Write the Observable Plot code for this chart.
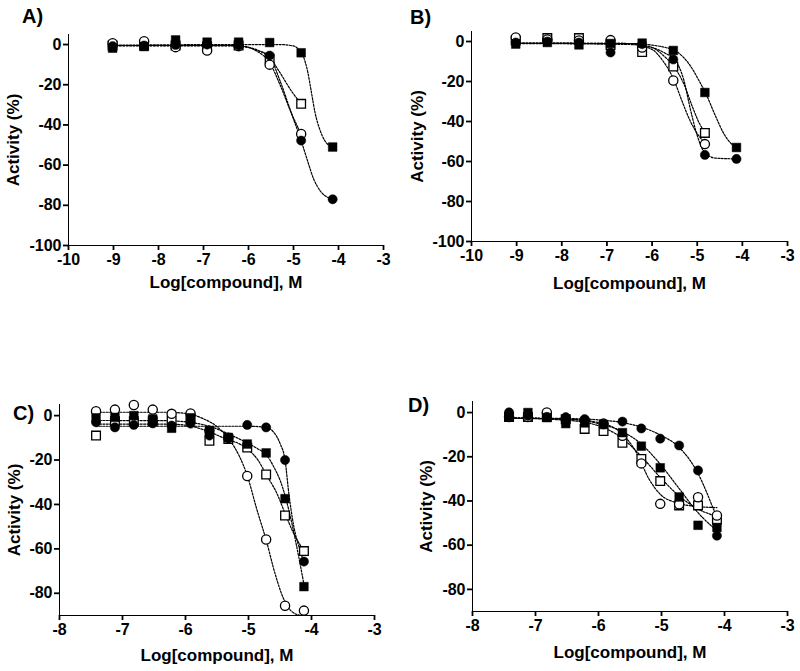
<!DOCTYPE html>
<html>
<head>
<meta charset="utf-8">
<script src="https://cdn.jsdelivr.net/npm/d3@7"></script>
<script src="https://cdn.jsdelivr.net/npm/@observablehq/plot@0.6"></script>
<style>
  html, body { margin: 0; padding: 0; background: #fff; }
  #chart { position: relative; width: 800px; height: 671px; background: #fff; overflow: hidden; }
  .panel { position: absolute; }
  .letter { position: absolute; font: bold 20px "Liberation Sans", Arial, sans-serif; line-height: 20px; color: #000; }
</style>
</head>
<body>
<div id="chart"></div>
<script>
// ---------- labels ----------
const panelLetters = ["A)", "B)", "C)", "D)"];
const xLabel = "Log[compound], M";
const yLabel = "Activity (%)";
const xTicksAB = [-10, -9, -8, -7, -6, -5, -4, -3];
const yTicksAB = [0, -20, -40, -60, -80, -100];
const xTicksCD = [-8, -7, -6, -5, -4, -3];
const yTicksCD = [0, -20, -40, -60, -80];

// ---------- log concentrations ----------
const xAB = [-9.02, -8.32, -7.62, -6.92, -6.22, -5.53, -4.83, -4.13];
const xCD = [-7.42, -7.12, -6.82, -6.52, -6.22, -5.92, -5.62, -5.32, -5.02, -4.72, -4.42, -4.12];

// ---------- measured points (activity %) ----------
// series: sqF = filled square, ciF = filled circle, ciO = open circle, sqO = open square
const A_sqF = [-1.8, -1.0, 2.3, 1.2, 1.2, 1.0, -4.1, -51.0];
const A_ciF = [-0.8, -0.5, -0.2, 0.0, -0.5, -5.5, -47.8, -77.0];
const A_ciO = [0.7, 1.7, -1.3, -3.0, -0.8, -10.0, -44.5, null];
const A_sqO = [-0.5, -0.5, -0.5, -1.0, -0.5, -7.1, -29.5, null];

const B_sqF = [-1.3, -0.5, -1.7, -1.0, -0.8, -4.5, -25.5, -53.0];
const B_ciF = [-0.5, 0.0, -0.5, -5.5, -1.3, -9.0, -56.7, -58.7];
const B_ciO = [2.0, 1.0, 0.5, 0.7, -3.0, -19.5, -51.3, null];
const B_sqO = [0.5, 1.7, 1.7, -1.8, -5.3, -12.5, -45.7, null];

const C_sqF = [-1.0, -0.8, 0.0, -1.5, -5.7, -1.0, -6.8, -9.8, -12.8, -16.8, -37.4, -77.0];
const C_ciF = [-3.0, -5.3, -4.2, -3.5, -4.5, -3.6, -9.0, -10.0, -4.2, -5.3, -20.0, -65.7];
const C_ciO = [2.0, 2.7, 4.8, 2.7, 0.8, 1.0, -6.8, -10.0, -27.2, -55.8, -85.6, -87.8];
const C_sqO = [-9.0, -2.5, -2.5, -2.5, -2.3, -1.5, -11.3, -10.5, -14.4, -26.5, -45.0, -61.0];

const D_sqF = [-2.0, 0.0, -2.3, -5.0, -4.7, -5.4, -9.1, -15.2, -25.0, -38.2, -51.0, -52.0];
const D_ciF = [0.1, -1.5, -2.0, -2.1, -3.0, -5.4, -4.1, -7.2, -11.8, -14.9, -26.2, -55.7];
const D_ciO = [-2.0, -2.0, 0.0, -3.0, -3.5, -5.0, -10.5, -23.0, -41.3, -41.5, -38.3, -46.6];
const D_sqO = [-2.0, -2.0, -2.0, -3.0, -7.4, -8.4, -13.7, -21.0, -31.0, -42.0, -42.0, -48.5];

// ---------- fitted curves as [log conc, activity] ----------
const fitA_sqF = [[-9.02,-0.3],[-6.0,0],[-5.3,0],[-5.0,-0.7],[-4.88,-2.5],[-4.78,-6],[-4.68,-14],[-4.6,-24],[-4.52,-34],[-4.42,-42],[-4.3,-48],[-4.13,-51]];
const fitA_ciF = [[-9.02,-0.5],[-6.5,-0.5],[-6.1,-1],[-5.8,-3],[-5.55,-5.5],[-5.3,-18],[-5.05,-34],[-4.83,-47.8],[-4.7,-57],[-4.55,-67],[-4.4,-73],[-4.13,-77]];
const fitA_ciO = [[-9.02,-0.5],[-6.5,-0.5],[-6.1,-1],[-5.8,-3.5],[-5.53,-9],[-5.3,-20],[-5.05,-34],[-4.83,-44.5]];
const fitA_sqO = [[-9.02,-0.5],[-6.5,-0.5],[-6.1,-1],[-5.8,-2.8],[-5.53,-6.5],[-5.3,-14],[-5.05,-23],[-4.83,-29.5]];

const fitB_sqF = [[-9.02,-1],[-6.5,-1],[-6.0,-1.8],[-5.7,-3],[-5.5,-4.5],[-5.3,-8],[-5.1,-14],[-4.95,-20],[-4.82,-25.5],[-4.6,-37],[-4.4,-46.5],[-4.25,-51],[-4.12,-53]];
const fitB_ciF = [[-9.02,-1],[-6.5,-1.5],[-6.0,-3],[-5.7,-6],[-5.5,-9],[-5.3,-19],[-5.15,-34],[-5.0,-47],[-4.85,-55],[-4.6,-58.3],[-4.12,-58.7]];
const fitB_ciO = [[-9.02,-0.8],[-6.5,-1],[-6.0,-4],[-5.75,-10],[-5.52,-19],[-5.35,-29],[-5.15,-40],[-5.0,-46],[-4.82,-51]];
const fitB_sqO = [[-9.02,-0.8],[-6.5,-1],[-6.0,-3],[-5.75,-7],[-5.52,-12.5],[-5.3,-21],[-5.1,-33],[-4.95,-41],[-4.82,-45.7]];

const fitC_sqF = [[-7.42,-2.2],[-6.3,-2.3],[-6.0,-2.8],[-5.6,-5],[-5.3,-8.5],[-5.02,-12.3],[-4.85,-15],[-4.72,-17.5],[-4.6,-23],[-4.5,-29],[-4.42,-36],[-4.3,-50],[-4.2,-64],[-4.12,-76]];
const fitC_ciF = [[-7.42,-4.8],[-5.0,-4.8],[-4.72,-5.3],[-4.6,-7.5],[-4.5,-12.5],[-4.42,-20],[-4.36,-35],[-4.28,-50],[-4.2,-59],[-4.12,-66]];
const fitC_ciO = [[-7.42,1.5],[-6.3,1.5],[-6.0,1.0],[-5.75,-1],[-5.5,-5],[-5.3,-11],[-5.15,-18],[-5.02,-27],[-4.87,-42],[-4.72,-56],[-4.58,-71],[-4.45,-82],[-4.32,-88],[-4.17,-90]];
const fitC_sqO = [[-7.42,-3.8],[-6.3,-3.8],[-6.0,-4.3],[-5.7,-6.5],[-5.4,-10],[-5.02,-15],[-4.85,-20],[-4.72,-26.5],[-4.55,-35],[-4.42,-44],[-4.3,-52],[-4.12,-61]];

const fitD_sqF = [[-7.44,-2.5],[-6.5,-3],[-6.0,-5],[-5.63,-8.5],[-5.33,-14],[-5.03,-23],[-4.73,-34],[-4.43,-45],[-4.12,-53.5]];
const fitD_ciF = [[-7.44,-2.5],[-6.5,-2.7],[-6.0,-3.3],[-5.63,-4.5],[-5.33,-6.5],[-5.03,-10],[-4.73,-15.5],[-4.55,-21.5],[-4.43,-27],[-4.27,-37],[-4.17,-44],[-4.12,-47]];
const fitD_ciO = [[-7.44,-2.5],[-6.5,-3],[-6.0,-4.5],[-5.63,-9.5],[-5.4,-18],[-5.2,-30],[-5.0,-37.5],[-4.8,-40.5],[-4.5,-42.3],[-4.12,-43]];
const fitD_sqO = [[-7.44,-2.5],[-6.5,-3.5],[-6.0,-6],[-5.63,-11.5],[-5.33,-19.5],[-5.03,-29],[-4.73,-37.5],[-4.43,-43.5],[-4.12,-47]];

// ---------- build panels ----------
const FONT = '"Liberation Sans", Arial, Helvetica, sans-serif';

function pts(xs, ys) {
  return xs.map((x, i) => ({x, y: ys[i]})).filter(d => d.y != null);
}

const panels = [
  {letter: panelLetters[0], left: 0, top: 0, width: 400, height: 330,
   margin: {top: 34, right: 17, bottom: 85, left: 68},
   xDomain: [-10, -3], yDomain: [-100, 5], xTicks: xTicksAB, yTicks: yTicksAB,
   xs: xAB, sqF: A_sqF, ciF: A_ciF, ciO: A_ciO, sqO: A_sqO,
   fits: [fitA_sqF, fitA_ciF, fitA_ciO, fitA_sqO],
   labelDy: 37, labelDx: -55, letterPos: [22, 6]},
  {letter: panelLetters[1], left: 400, top: 0, width: 400, height: 330,
   margin: {top: 31, right: 13, bottom: 89, left: 71},
   xDomain: [-10, -3], yDomain: [-100, 5], xTicks: xTicksAB, yTicks: yTicksAB,
   xs: xAB, sqF: B_sqF, ciF: B_ciF, ciO: B_ciO, sqO: B_sqO,
   fits: [fitB_sqF, fitB_ciF, fitB_ciO, fitB_sqO],
   labelDy: 42, labelDx: -54, letterPos: [410, 7]},
  {letter: panelLetters[2], left: 0, top: 330, width: 400, height: 341,
   margin: {top: 74, right: 26, bottom: 56, left: 59},
   xDomain: [-8, -3], yDomain: [-90, 5], xTicks: xTicksCD, yTicks: yTicksCD,
   xs: xCD, sqF: C_sqF, ciF: C_ciF, ciO: C_ciO, sqO: C_sqO,
   fits: [fitC_sqF, fitC_ciF, fitC_ciO, fitC_sqO],
   labelDy: 40, labelDx: -45, letterPos: [13, 403]},
  {letter: panelLetters[3], left: 400, top: 330, width: 400, height: 341,
   margin: {top: 71, right: 13, bottom: 60, left: 72},
   xDomain: [-8, -3], yDomain: [-90, 5], xTicks: xTicksCD, yTicks: yTicksCD,
   xs: xCD, sqF: D_sqF, ciF: D_ciF, ciO: D_ciO, sqO: D_sqO,
   fits: [fitD_sqF, fitD_ciF, fitD_ciO, fitD_sqO],
   labelDy: 41, labelDx: -46, letterPos: [408, 395]}
];

const chart = document.getElementById("chart");
const fmt = d => String(d);
const markLabels = new Set(["line", "dot", "text"]);

for (const p of panels) {
  const fitMarks = p.fits.map(f => Plot.line(f, {
    x: d => d[0], y: d => d[1], curve: "monotone-x",
    stroke: "#000", strokeWidth: 1.2, strokeDasharray: "2,1.4"
  }));
  const svg = Plot.plot({
    width: p.width, height: p.height,
    marginTop: p.margin.top, marginRight: p.margin.right,
    marginBottom: p.margin.bottom, marginLeft: p.margin.left,
    style: {fontFamily: FONT, fontWeight: "bold", color: "#000", background: "transparent", overflow: "visible"},
    x: {domain: p.xDomain, ticks: p.xTicks, tickFormat: fmt, tickSize: 5, tickPadding: 3, line: true, label: null},
    y: {domain: p.yDomain, ticks: p.yTicks, tickFormat: fmt, tickSize: 5, tickPadding: 2, line: true, label: null},
    marks: [
      ...fitMarks,
      Plot.dot(pts(p.xs, p.sqO), {x: "x", y: "y", symbol: "square", r: 4.9, fill: "white", stroke: "#000", strokeWidth: 1.3}),
      Plot.dot(pts(p.xs, p.ciO), {x: "x", y: "y", symbol: "circle", r: 4.6, fill: "white", stroke: "#000", strokeWidth: 1.3}),
      Plot.dot(pts(p.xs, p.sqF), {x: "x", y: "y", symbol: "square", r: 4.9, fill: "#000", stroke: "#000", strokeWidth: 0.5}),
      Plot.dot(pts(p.xs, p.ciF), {x: "x", y: "y", symbol: "circle", r: 4.6, fill: "#000", stroke: "#000", strokeWidth: 0.5}),
      Plot.text([xLabel], {frameAnchor: "bottom", dy: p.labelDy, text: d => d, textAnchor: "middle", lineAnchor: "middle", fontSize: 17, fontWeight: "bold", fill: "#000"}),
      Plot.text([yLabel], {frameAnchor: "left", dx: p.labelDx, rotate: -90, text: d => d, textAnchor: "middle", lineAnchor: "middle", fontSize: 17, fontWeight: "bold", fill: "#000"})
    ]
  });

  // axis styling: bold tick labels, heavier axis lines and ticks
  svg.querySelectorAll("text").forEach(t => {
    const s = t.textContent;
    if (s === xLabel || s === yLabel) return;
    t.setAttribute("font-size", "16");
    t.style.fontSize = "16px";
    t.style.fontWeight = "bold";
    t.style.fontFamily = FONT;
  });
  for (const g of svg.querySelectorAll(":scope > g")) {
    const label = g.getAttribute("aria-label") || "";
    if (markLabels.has(label)) continue;
    g.querySelectorAll("path, line").forEach(el => { el.style.strokeWidth = "1.8px"; });
  }

  const wrap = document.createElement("div");
  wrap.className = "panel";
  wrap.style.left = p.left + "px";
  wrap.style.top = p.top + "px";
  wrap.appendChild(svg);
  chart.appendChild(wrap);

  const letter = document.createElement("div");
  letter.className = "letter";
  letter.textContent = p.letter;
  letter.style.left = p.letterPos[0] + "px";
  letter.style.top = p.letterPos[1] + "px";
  chart.appendChild(letter);
}
</script>
</body>
</html>
